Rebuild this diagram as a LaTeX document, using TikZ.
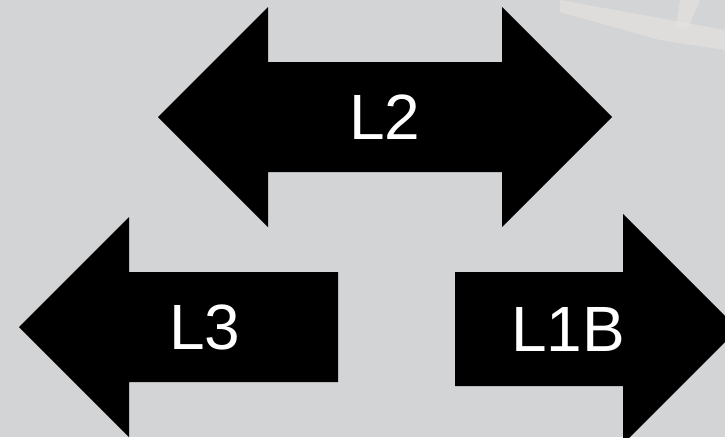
\documentclass[tikz,border=0pt]{standalone}
\usepackage{fontspec}
\setmainfont{Liberation Sans}
\usepackage{tikz}
\usetikzlibrary{positioning}
\definecolor{bggrey}{RGB}{211,212,214}
\definecolor{bgband}{RGB}{232,230,224}

\begin{document}
\begin{tikzpicture}[
    x=1pt, y=-1pt,
    arrow/.style={fill=black, draw=none},
    lbl/.style={text=white, inner sep=0pt, font=\fontsize{64}{64}\selectfont},
    band/.style={fill=bgband, opacity=0.55, draw=none}
]

% ============ background ============
\useasboundingbox (0,0) rectangle (725,437);
\fill[bggrey] (0,0) rectangle (725,437);
\clip (0,0) rectangle (725,437);
\fill[band] (560,0) -- (725,30) -- (725,50) -- (660,40) -- (560,12) -- cycle;
\fill[band] (680,0) -- (700,0) -- (688,28) -- (676,26) -- cycle;

% ============ (top) L2 ============
\fill[arrow] (158,117) -- (268,7) -- (268,62) -- (502,62) -- (502,7)
    -- (612,117) -- (502,227) -- (502,172) -- (268,172) -- (268,227) -- cycle;
\node[lbl] (lbl-l2) at (385,117) {L2};

% ============ (left) L3 ============
\fill[arrow] (19,327) -- (129,217) -- (129,272) -- (338,272)
    -- (338,382) -- (129,382) -- (129,437) -- cycle;
\node[lbl] (lbl-l3) at (205,327) {L3};

% ============ (right) L1B ============
\fill[arrow] (455,272) -- (623,272) -- (623,214) -- (738,329)
    -- (623,444) -- (623,386) -- (455,386) -- cycle;
\node[lbl] (lbl-l1b) at (568,329) {L1B};

\end{tikzpicture}
\end{document}
